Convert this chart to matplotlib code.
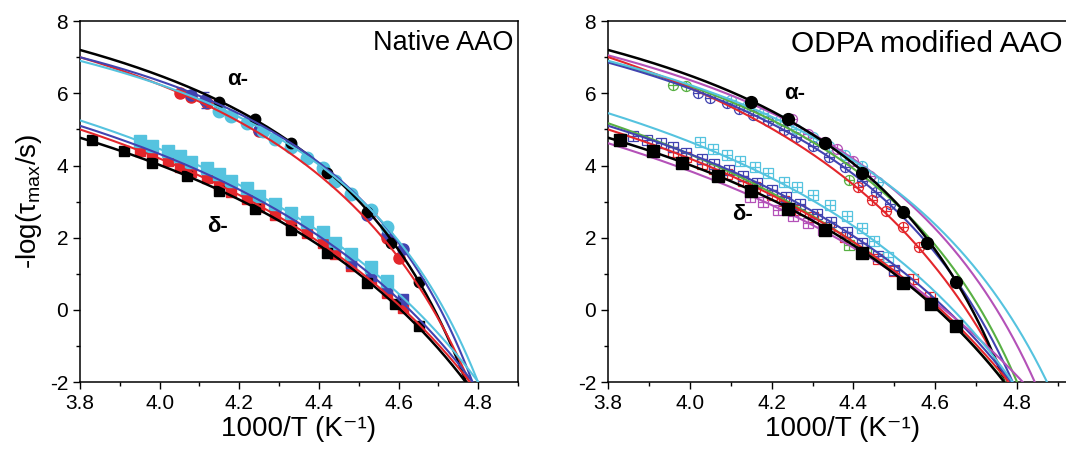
import matplotlib.pyplot as plt
import numpy as np

plt.rcParams['font.family'] = ['Liberation Sans', 'DejaVu Sans']
plt.rcParams['mathtext.fontset'] = 'custom'
plt.rcParams['mathtext.rm'] = 'Liberation Sans'
plt.rcParams['axes.unicode_minus'] = False

BLACK = '#000000'
RED = '#e3262b'
BLUE = '#4143b0'
CYAN = '#55c3df'
MAGENTA = '#b451b8'
GREEN = '#58b043'

# ---- VFT fits, -log(tau) = A - B / (1000/x - T0), one entry per curve
nat_fit_colors = [BLACK, RED, BLUE, CYAN, BLACK, RED, BLUE, CYAN]
nat_fit_A = [10.36, 10.585, 9.924, 9.898, 9.0, 9.741, 9.56, 9.854]
nat_fit_B = [227.0, 270.0, 210.0, 219.6, 367.4, 428.9, 393.6, 412.8]
nat_fit_T0 = [191.3, 187.85, 191.35, 189.9, 176.3, 172.7, 174.9, 173.5]

mod_fit_colors = [GREEN, MAGENTA, RED, BLUE, CYAN, BLACK,
                  GREEN, RED, BLUE, MAGENTA, CYAN, BLACK]
mod_fit_A = [10.1, 10.40, 11.33, 10.24, 10.31, 10.36,
             10.34, 9.741, 9.56, 9.48, 9.877, 9.0]
mod_fit_B = [240.0, 260.0, 345.0, 254.6, 273.3, 227.0,
             476.3, 428.9, 393.6, 467.5, 383.6, 367.4]
mod_fit_T0 = [188.5, 185.5, 183.4, 188.0, 183.0, 191.3,
              171.0, 172.7, 174.9, 167.0, 176.5, 176.3]

# ---- measured points, Native AAO
a_black_x = [4.15, 4.24, 4.33, 4.42, 4.52, 4.58, 4.65]
a_black_y = [5.75, 5.28, 4.62, 3.78, 2.70, 1.85, 0.78]
d_black_x = [3.83, 3.91, 3.98, 4.07, 4.15, 4.24, 4.33, 4.42, 4.52, 4.59, 4.65]
d_black_y = [4.70, 4.40, 4.08, 3.70, 3.28, 2.80, 2.20, 1.58, 0.75, 0.15, -0.45]

nat_a_red_x = [4.05, 4.08, 4.12, 4.15, 4.18, 4.22, 4.25, 4.29, 4.33, 4.37, 4.41,
               4.44, 4.48, 4.53, 4.57, 4.60]
nat_a_red_y = [6.02, 5.90, 5.74, 5.52, 5.37, 5.17, 4.96, 4.74, 4.50, 4.22, 3.92,
               3.58, 3.20, 2.72, 2.00, 1.45]
nat_a_blue_x = [4.08, 4.115, 4.15, 4.18, 4.22, 4.25, 4.29, 4.33, 4.37, 4.41, 4.44,
                4.48, 4.52, 4.57, 4.61]
nat_a_blue_y = [5.96, 5.82, 5.52, 5.37, 5.17, 4.97, 4.74, 4.50, 4.22, 3.92, 3.58,
                3.20, 2.62, 2.07, 1.70]
nat_a_blue_err = [0, 0.22, 0, 0, 0, 0, 0, 0, 0, 0, 0, 0, 0, 0, 0]
nat_a_cyan_x = [4.15, 4.18, 4.22, 4.26, 4.29, 4.33, 4.37, 4.41, 4.44, 4.48, 4.53, 4.57]
nat_a_cyan_y = [5.50, 5.36, 5.17, 4.96, 4.74, 4.50, 4.22, 3.92, 3.58, 3.20, 2.78, 2.30]

nat_d_red_x = [3.95, 3.98, 4.02, 4.05, 4.08, 4.12, 4.15, 4.18, 4.22, 4.25, 4.29,
               4.33, 4.37, 4.41, 4.44, 4.48, 4.53, 4.57, 4.61]
nat_d_red_y = [4.40, 4.26, 4.12, 3.97, 3.81, 3.64, 3.46, 3.27, 3.07, 2.86, 2.63,
               2.38, 2.12, 1.84, 1.54, 1.21, 0.86, 0.48, 0.06]
nat_d_blue_x = [4.48, 4.53, 4.57, 4.61]
nat_d_blue_y = [1.30, 0.95, 0.62, 0.30]
nat_d_cyan_x = [3.95, 3.98, 4.02, 4.05, 4.08, 4.12, 4.15, 4.18, 4.22, 4.25, 4.29,
                4.33, 4.37, 4.41, 4.44, 4.48, 4.53, 4.57]
nat_d_cyan_y = [4.68, 4.55, 4.41, 4.26, 4.10, 3.93, 3.76, 3.57, 3.37, 3.16, 2.94,
                2.69, 2.44, 2.16, 1.86, 1.54, 1.18, 0.80]

# ---- measured points, ODPA modified AAO
mod_a_green_x = [3.96, 3.99, 4.39]
mod_a_green_y = [6.23, 6.20, 3.60]
mod_a_blue_x = [4.02, 4.05, 4.09, 4.12, 4.155, 4.19, 4.23, 4.26, 4.30, 4.34, 4.38,
                4.42, 4.455, 4.49]
mod_a_blue_y = [6.02, 5.88, 5.72, 5.57, 5.40, 5.22, 4.99, 4.78, 4.53, 4.24, 3.95,
                3.58, 3.27, 2.92]
mod_a_cyan_x = [4.10, 4.14, 4.18, 4.22, 4.26, 4.30, 4.34, 4.38, 4.42, 4.46]
mod_a_cyan_y = [5.82, 5.64, 5.45, 5.25, 5.02, 4.80, 4.54, 4.28, 3.98, 3.55]
mod_a_magenta_x = [4.25, 4.29, 4.33, 4.36, 4.40, 4.44]
mod_a_magenta_y = [5.30, 4.88, 4.65, 4.46, 4.12, 3.72]
mod_a_red_x = [4.41, 4.445, 4.48, 4.52, 4.56]
mod_a_red_y = [3.40, 3.05, 2.75, 2.30, 1.74]

mod_d_red_x = [3.96, 3.99, 4.03, 4.06, 4.09, 4.13, 4.16, 4.20, 4.23, 4.27, 4.30,
               4.34, 4.38, 4.42, 4.46, 4.50, 4.546, 4.587]
mod_d_red_y = [4.37, 4.24, 4.05, 3.91, 3.77, 3.56, 3.41, 3.18, 3.01, 2.77, 2.58,
               2.31, 2.03, 1.72, 1.41, 1.08, 0.85, 0.36]
mod_d_green_x = [4.39, 4.43]
mod_d_green_y = [1.80, 1.58]
mod_d_blue_x = [3.86, 3.895, 3.93, 3.96, 3.99, 4.03, 4.06, 4.095, 4.13, 4.165, 4.20,
                4.235, 4.27, 4.31, 4.345, 4.385, 4.42, 4.46, 4.50]
mod_d_blue_y = [4.82, 4.72, 4.62, 4.50, 4.36, 4.18, 4.05, 3.88, 3.70, 3.52, 3.33,
                3.13, 2.92, 2.67, 2.43, 2.16, 1.85, 1.50, 1.10]
mod_d_magenta_x = [4.147, 4.18, 4.216, 4.252, 4.289, 4.326]
mod_d_magenta_y = [3.13, 3.00, 2.78, 2.60, 2.40, 2.20]
mod_d_cyan_x = [4.025, 4.057, 4.09, 4.123, 4.159, 4.192, 4.229, 4.261, 4.302, 4.343,
                4.384, 4.42, 4.45, 4.485]
mod_d_cyan_y = [4.66, 4.47, 4.29, 4.13, 3.96, 3.78, 3.55, 3.41, 3.18, 2.90,
                2.60, 2.28, 1.92, 1.46]


def draw_fits(ax, colors, A, B, T0):
    x = np.linspace(3.8, 4.95, 500)
    for c, a, b, t0 in zip(colors, A, B, T0):
        y = a - b / (1000.0 / x - t0)
        lw = 1.8 if c == BLACK else 1.5
        ax.plot(x, y, color=c, lw=lw, zorder=3)


def open_marks(ax, x, y, color, marker):
    # open symbol with a cross inside
    ax.plot(x, y, ls='none', marker=marker, ms=7.2, mfc='none', mec=color, mew=0.9, zorder=2)
    ax.plot(x, y, ls='none', marker='+', ms=7.2, mec=color, mew=0.9, zorder=2)


def style_axes(ax, xmax):
    ax.set_xlim(3.8, xmax)
    ax.set_ylim(-2, 8)
    ax.set_xticks([3.8, 4.0, 4.2, 4.4, 4.6, 4.8])
    ax.set_xticks(np.arange(3.9, 4.95, 0.2), minor=True)
    ax.set_yticks([-2, 0, 2, 4, 6, 8])
    ax.set_yticks([-1, 1, 3, 5, 7], minor=True)
    ax.tick_params(which='both', direction='out', top=False, right=False,
                   labelsize=15, width=1.0)
    ax.tick_params(which='major', length=5)
    ax.tick_params(which='minor', length=3)
    for s in ax.spines.values():
        s.set_linewidth(1.1)
    ax.set_xlabel('1000/T (K⁻¹)', fontsize=20, labelpad=2)


fig = plt.figure(figsize=(10.66, 4.49), dpi=100)

# ---------------- Native AAO
ax1 = fig.add_axes([0.075, 0.149, 0.411, 0.804])
style_axes(ax1, 4.845)
ax1.plot(nat_a_red_x, nat_a_red_y, 'o', color=RED, ms=8, zorder=2.0)
ax1.errorbar(nat_a_blue_x, nat_a_blue_y, yerr=nat_a_blue_err, fmt='none', ecolor=BLUE,
             elinewidth=1, capsize=3, zorder=2.1)
ax1.plot(nat_a_blue_x, nat_a_blue_y, 'o', color=BLUE, ms=8, zorder=2.1)
ax1.plot(nat_a_cyan_x, nat_a_cyan_y, 'o', color=CYAN, ms=9, zorder=2.2)
ax1.plot(a_black_x, a_black_y, 'o', color=BLACK, ms=7.5, zorder=2.3)
ax1.plot(nat_d_red_x, nat_d_red_y, 's', color=RED, ms=7, zorder=2.0)
ax1.plot(nat_d_blue_x, nat_d_blue_y, 's', color=BLUE, ms=7.5, zorder=2.1)
ax1.plot(nat_d_cyan_x, nat_d_cyan_y, 's', color=CYAN, ms=8, zorder=2.2)
ax1.plot(d_black_x, d_black_y, 's', color=BLACK, ms=7, zorder=2.3)
draw_fits(ax1, nat_fit_colors, nat_fit_A, nat_fit_B, nat_fit_T0)
ax1.set_ylabel('-log(τ$_{\\rm max}$/s)', fontsize=20, labelpad=4)
ax1.text(0.99, 0.975, 'Native AAO', transform=ax1.transAxes, ha='right', va='top',
         fontsize=19.5)
ax1.text(4.195, 6.37, 'α-', fontsize=16, fontweight='bold', ha='center', va='center')
ax1.text(4.145, 2.3, 'δ-', fontsize=16, fontweight='bold', ha='center', va='center')

# ---------------- ODPA modified AAO (panel runs past the right edge)
ax2 = fig.add_axes([0.5704, 0.149, 0.4409, 0.804])
style_axes(ax2, 4.949)
open_marks(ax2, mod_a_green_x, mod_a_green_y, GREEN, 'o')
open_marks(ax2, mod_a_blue_x, mod_a_blue_y, BLUE, 'o')
open_marks(ax2, mod_a_cyan_x, mod_a_cyan_y, CYAN, 'o')
open_marks(ax2, mod_a_magenta_x, mod_a_magenta_y, MAGENTA, 'o')
open_marks(ax2, mod_a_red_x, mod_a_red_y, RED, 'o')
open_marks(ax2, mod_d_red_x, mod_d_red_y, RED, 's')
open_marks(ax2, mod_d_green_x, mod_d_green_y, GREEN, 's')
open_marks(ax2, mod_d_blue_x, mod_d_blue_y, BLUE, 's')
open_marks(ax2, mod_d_magenta_x, mod_d_magenta_y, MAGENTA, 's')
open_marks(ax2, mod_d_cyan_x, mod_d_cyan_y, CYAN, 's')
draw_fits(ax2, mod_fit_colors, mod_fit_A, mod_fit_B, mod_fit_T0)
ax2.plot(a_black_x, a_black_y, 'o', color=BLACK, ms=8.5, zorder=4)
ax2.plot(d_black_x, d_black_y, 's', color=BLACK, ms=8, zorder=4)
ax2.text(0.966, 0.975, 'ODPA modified AAO', transform=ax2.transAxes, ha='right',
         va='top', fontsize=21.5)
ax2.text(4.257, 6.0, 'α-', fontsize=16, fontweight='bold', ha='center', va='center')
ax2.text(4.128, 2.63, 'δ-', fontsize=16, fontweight='bold', ha='center', va='center')

fig.savefig('out.png', dpi=100)
